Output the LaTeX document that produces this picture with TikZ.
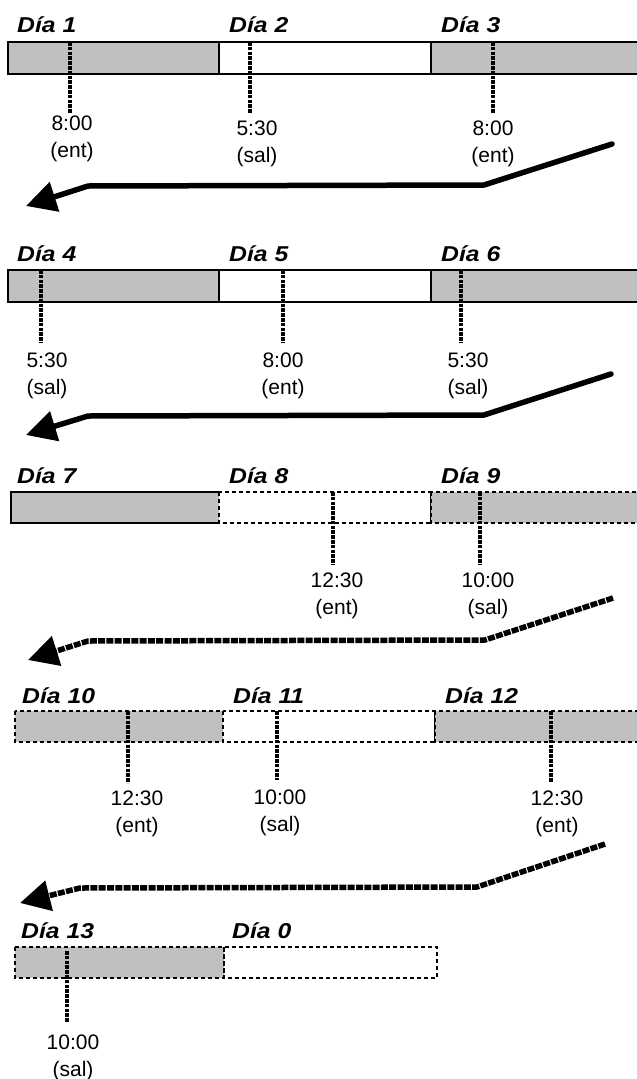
\documentclass[tikz,border=0pt]{standalone}
\usepackage{fontspec}
\setmainfont{Liberation Sans}
\usetikzlibrary{arrows.meta}
\definecolor{daygray}{RGB}{192,192,192}
\tikzset{
  plainbar/.style={draw=black, line width=1.2pt},
  dashbar/.style={draw=black, line width=1.4pt, dash pattern=on 4pt off 3pt},
  tickline/.style={draw=black, line width=3.2pt, dash pattern=on 3.5pt off 1.3pt},
  daylbl/.style={anchor=base west, inner sep=0pt,
    font=\fontsize{21.5}{25}\selectfont\bfseries\itshape},
  timelbl/.style={anchor=base, inner sep=0pt, font=\fontsize{21}{25}\selectfont},
  wraparrow/.style={draw=black, line width=5.5pt, line join=round,
    -{Triangle[length=30pt,width=30pt]}},
  solidwrap/.style={wraparrow, line cap=round},
  dashwrap/.style={wraparrow, dash pattern=on 7pt off 1.3pt},
}
% a day label, stretched a little in width
\newcommand\daytag[3]{\node[daylbl] (#1) at (#2) {\scalebox{1.15}[1]{#3}};}
% a clock mark: dashed tick plus time and kind beneath it
\newcommand\clocktick[8]{%
  \coordinate (#1top) at (#2,#3);
  \coordinate (#1bot) at (#2,#4);
  \draw[tickline] (#1top) -- (#1bot);
  \node[timelbl] (#1time) at (#5,#6+7.7) {#7};
  \node[timelbl] (#1kind) at (#5,#6+34.2) {#8};
}
\begin{document}
\begin{tikzpicture}[x=1pt,y=-1pt]
\useasboundingbox (0,0) rectangle (637,1079);
\clip (0,0) rectangle (637,1079);
\fill[white] (0,0) rectangle (637,1079);

% ---- days 1 to 3
\draw[plainbar, fill=daygray] (8,42) rectangle (219,74);
\draw[plainbar, fill=white] (219,42) rectangle (431,74);
\draw[plainbar, fill=daygray] (431,42) rectangle (660,74);
\daytag{d1}{17,32}{Día 1}
\daytag{d2}{229,32}{Día 2}
\daytag{d3}{441,32}{Día 3}
\clocktick{k1}{70}{42}{113}{72}{123}{8:00}{(ent)}
\clocktick{k2}{250}{42}{113}{257}{128}{5:30}{(sal)}
\clocktick{k3}{493}{42}{113}{493}{128}{8:00}{(ent)}
\coordinate (a1s) at (612,144);
\coordinate (a1k) at (484,185);
\coordinate (a1h) at (88,186);
\coordinate (a1e) at (26,206);
\draw[solidwrap] (a1s) -- (a1k) -- (a1h) -- (a1e);

% ---- days 4 to 6
\draw[plainbar, fill=daygray] (8,270) rectangle (219,302);
\draw[plainbar, fill=white] (219,270) rectangle (431,302);
\draw[plainbar, fill=daygray] (431,270) rectangle (660,302);
\daytag{d4}{17,261}{Día 4}
\daytag{d5}{229,261}{Día 5}
\daytag{d6}{441,261}{Día 6}
\clocktick{k4}{41}{270}{343}{47}{360}{5:30}{(sal)}
\clocktick{k5}{283}{270}{343}{283}{360}{8:00}{(ent)}
\clocktick{k6}{461}{270}{343}{468}{360}{5:30}{(sal)}
\coordinate (a2s) at (611,374);
\coordinate (a2k) at (484,415);
\coordinate (a2h) at (88,416);
\coordinate (a2e) at (26,435);
\draw[solidwrap] (a2s) -- (a2k) -- (a2h) -- (a2e);

% ---- days 7 to 9
\fill[daygray] (11,492) rectangle (219,523);
\draw[plainbar] (219,492) -- (11,492) -- (11,523) -- (219,523);
\draw[dashbar] (219,492) -- (219,523);
\draw[dashbar] (219,492) rectangle (431,523);
\draw[dashbar, fill=daygray] (431,492) rectangle (660,523);
\daytag{d7}{17,483}{Día 7}
\daytag{d8}{229,483}{Día 8}
\daytag{d9}{441,483}{Día 9}
\clocktick{k8}{333}{492}{565}{337}{580}{12:30}{(ent)}
\clocktick{k9}{480}{492}{565}{488}{580}{10:00}{(sal)}
\coordinate (a3s) at (613,598);
\coordinate (a3k) at (485,640);
\coordinate (a3h) at (88,641);
\coordinate (a3e) at (28,660);
\draw[dashwrap] (a3s) -- (a3k) -- (a3h) -- (a3e);

% ---- days 10 to 12
\draw[dashbar, fill=daygray] (15,711) rectangle (223,742);
\draw[dashbar] (223,711) rectangle (435,742);
\draw[dashbar, fill=daygray] (435,711) rectangle (660,742);
\daytag{d10}{22,703}{Día 10}
\daytag{d11}{233,703}{Día 11}
\daytag{d12}{445,703}{Día 12}
\clocktick{k10}{128}{711}{783}{137}{798}{12:30}{(ent)}
\clocktick{k11}{277}{711}{780}{280}{797}{10:00}{(sal)}
\clocktick{k12}{551}{711}{782}{557}{798}{12:30}{(ent)}
\coordinate (a4s) at (605,844);
\coordinate (a4k) at (477,887);
\coordinate (a4h) at (80,888);
\coordinate (a4e) at (20,903);
\draw[dashwrap] (a4s) -- (a4k) -- (a4h) -- (a4e);

% ---- days 13 and 0
\draw[dashbar, fill=daygray] (15,947) rectangle (224,978);
\draw[dashbar] (224,947) rectangle (437,978);
\daytag{d13}{21,938}{Día 13}
\daytag{d0}{232,938}{Día 0}
\clocktick{k13}{67}{951}{1022}{73}{1042}{10:00}{(sal)}
\end{tikzpicture}
\end{document}
